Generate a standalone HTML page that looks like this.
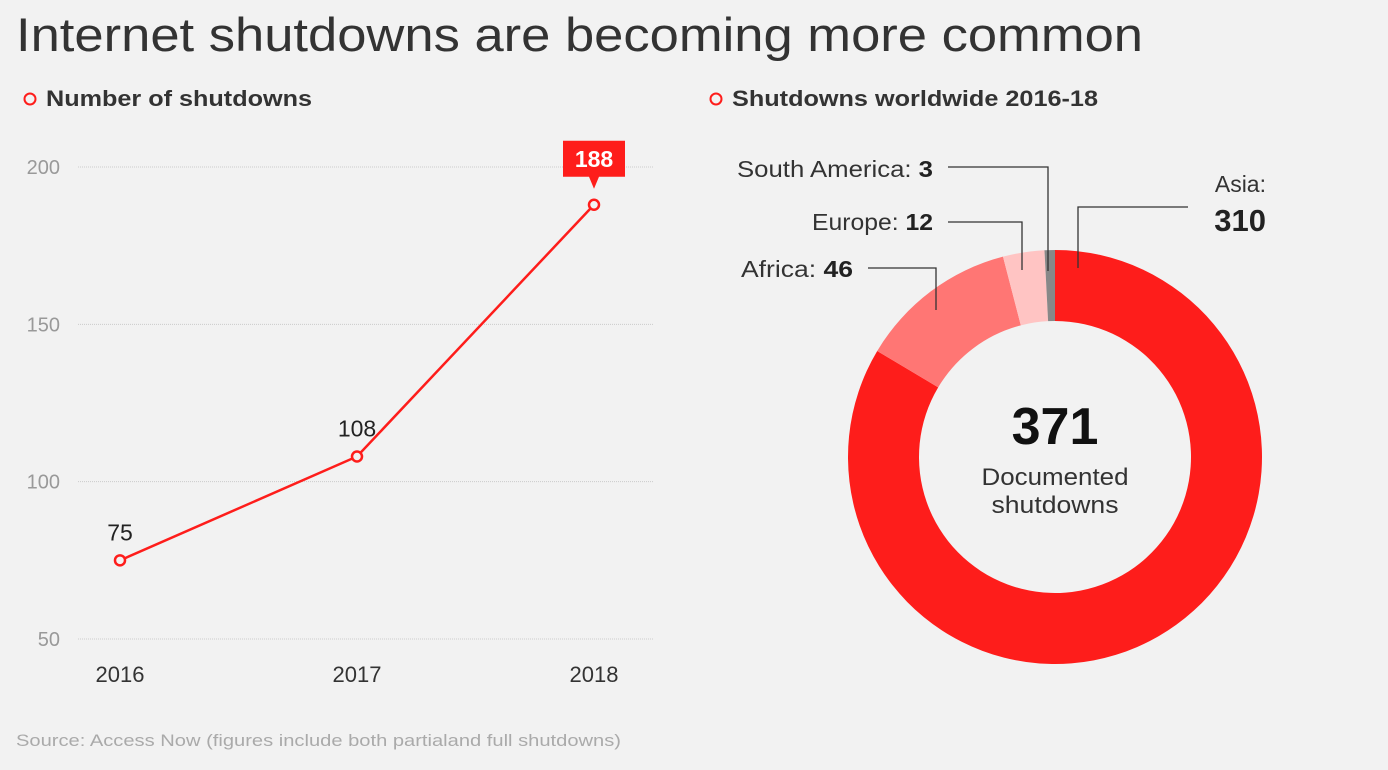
<!DOCTYPE html>
<html><head><meta charset="utf-8"><style>
body{margin:0;background:#f2f2f2;font-family:"Liberation Sans",sans-serif;}
svg{display:block}
</style></head><body>
<svg width="1388" height="770">
<text x="16" y="51" font-size="47" fill="#333" textLength="1127" lengthAdjust="spacingAndGlyphs">Internet shutdowns are becoming more common</text>
<circle cx="30" cy="99" r="5.5" fill="none" stroke="#fe1d1b" stroke-width="2"/>
<text x="46" y="106" font-size="22" font-weight="bold" fill="#333" textLength="266" lengthAdjust="spacingAndGlyphs">Number of shutdowns</text>
<circle cx="716" cy="99" r="5.5" fill="none" stroke="#fe1d1b" stroke-width="2"/>
<text x="732" y="106" font-size="22" font-weight="bold" fill="#333" textLength="366" lengthAdjust="spacingAndGlyphs">Shutdowns worldwide 2016-18</text>
<g id="line"></g>
<g id="donut"></g>
<text x="16" y="746" font-size="17" fill="#aaa" textLength="605" lengthAdjust="spacingAndGlyphs">Source: Access Now (figures include both partialand full shutdowns)</text>
</svg>
<script>
const years=["2016","2017","2018"];
const counts=[75,108,188];
const yTicks=[50,100,150,200];
const regions=["Asia","Africa","Europe","South America"];
const regionVals=[310,46,12,3];
const NS="http://www.w3.org/2000/svg";
function mk(t,a,p){const e=document.createElementNS(NS,t);for(const k in a)e.setAttribute(k,a[k]);p.appendChild(e);return e;}
const L=document.getElementById('line');
const y=v=>639-(v-50)*472/150;
const x=i=>120+i*237;
yTicks.forEach(t=>{
 const g=mk('line',{x1:78,x2:653,y1:y(t),y2:y(t),stroke:'#ccc','stroke-dasharray':'1 1'},L);
 
 
 const tx=mk('text',{x:60,y:y(t)+7,'font-size':20,fill:'#999','text-anchor':'end'},L);tx.textContent=t;
 
 
});
years.forEach((yr,i)=>{const t=mk('text',{x:x(i),y:682,'font-size':22,fill:'#333','text-anchor':'middle'},L);t.textContent=yr;
 
 });
const pl=mk('polyline',{points:counts.map((v,i)=>x(i)+','+y(v)).join(' '),fill:'none',stroke:'#fe1d1b','stroke-width':2.5},L);


counts.forEach((v,i)=>{
 const c=mk('circle',{cx:x(i),cy:y(v),r:5,fill:'#f2f2f2',stroke:'#fe1d1b','stroke-width':2.5},L);
 
 
 if(i===counts.length-1){
  const b=mk('path',{d:`M${x(i)-31},${y(v)-64}h62v36h-26l-5,12l-5,-12h-26z`,fill:'#fe1d1b'},L);
  
  
  const t=mk('text',{x:x(i),y:y(v)-38,'font-size':23,'font-weight':'bold',fill:'#fff','text-anchor':'middle'},L);t.textContent=v;
  
  
 } else {
  const t=mk('text',{x:x(i),y:y(v)-20,'font-size':23,fill:'#222','text-anchor':'middle'},L);t.textContent=v;
  
  
 }
});
const D=document.getElementById('donut');
const cx=1055,cy=457,R=207,r=136;
const colors=['#fe1d1b','#ff7674','#ffc4c3','#888'];
const total=regionVals.reduce((a,b)=>a+b,0);
let acc=0;
const pt=(a,rr)=>[cx+rr*Math.sin(a),cy-rr*Math.cos(a)];
regionVals.forEach((v,i)=>{
 const a0=acc/total*2*Math.PI;acc+=v;const a1=acc/total*2*Math.PI;
 const lg=(a1-a0)>Math.PI?1:0;
 const p0=pt(a0,R),p1=pt(a1,R),q1=pt(a1,r),q0=pt(a0,r);
 const s=mk('path',{d:`M${p0}A${R},${R} 0 ${lg} 1 ${p1}L${q1}A${r},${r} 0 ${lg} 0 ${q0}Z`,fill:colors[i]},D);
 
 
});
const leaders=[
 "M1078,268V207H1188","M936,310V268H868","M1022,270V222H948","M1048,271V167H948"];
leaders.forEach((d,i)=>{const l=mk('path',{d,fill:'none',stroke:'#333','stroke-width':1.3},D);
 
 });
function lab(px,py,name,val,nm,w){const t=mk('text',{x:px-w,y:py,'font-size':23,fill:'#333',textLength:w,lengthAdjust:'spacingAndGlyphs'},D);
 t.innerHTML=name+': <tspan font-weight="bold" fill="#222">'+val+'</tspan>';
 
 }
lab(933,177,regions[3],regionVals[3],'label-south-america',196);
lab(933,230,regions[2],regionVals[2],'label-europe',121);
lab(853,277,regions[1],regionVals[1],'label-africa',112);
const a1=mk('text',{x:1266,y:192,'font-size':23,fill:'#333','text-anchor':'end'},D);a1.textContent=regions[0]+':';


const a2=mk('text',{x:1266,y:231,'font-size':31,'font-weight':'bold',fill:'#222','text-anchor':'end'},D);a2.textContent=regionVals[0];


const tt=mk('text',{x:cx,y:444,'font-size':52,'font-weight':'bold',fill:'#111','text-anchor':'middle'},D);tt.textContent=total;


[['Documented',147],['shutdowns',127]].forEach(([w,tl],i)=>{const t=mk('text',{x:cx-tl/2,y:485+i*28,'font-size':24,fill:'#333',textLength:tl,lengthAdjust:'spacingAndGlyphs'},D);t.textContent=w;
 
 });
</script>
</body></html>
